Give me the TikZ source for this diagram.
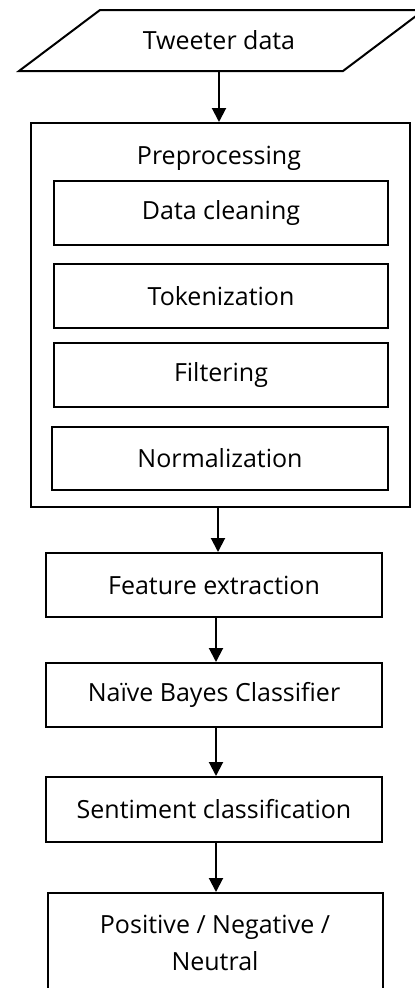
\documentclass[tikz,border=0pt]{standalone}
\usepackage{fontspec}
\setmainfont{Open Sans}
\usetikzlibrary{arrows.meta}
\begin{document}
\begin{tikzpicture}[x=1pt,y=-1pt,
  box/.style={draw,line width=2pt,rectangle,inner sep=0pt,font=\fontsize{25}{30}\selectfont},
  lbl/.style={inner sep=0pt,font=\fontsize{25}{30}\selectfont},
  arr/.style={line width=2pt,-{Triangle[width=14pt,length=14pt]}}]
\useasboundingbox (0,0) rectangle (415,988);
% input parallelogram
\draw[line width=2pt,line join=miter] (100,10) -- (424,10) -- (343,71) -- (19,71) -- cycle;
\node[lbl,minimum height=61pt] (tw) at (219,40.5) {Tweeter data};
% preprocessing
\node[box,minimum width=379pt,minimum height=384pt] (pre) at (220.5,315) {};
\node[lbl] (prel) at (219,158) {Preprocessing};
\node[box,minimum width=334pt,minimum height=64pt] (dc) at (221,213) {Data cleaning};
\node[box,minimum width=334pt,minimum height=64pt] (tok) at (221,296) {Tokenization};
\node[box,minimum width=334pt,minimum height=64pt] (fil) at (221,375) {Filtering};
\node[box,minimum width=336pt,minimum height=63pt] (nor) at (220,458.5) {Normalization};
% pipeline
\node[box,minimum width=336pt,minimum height=64pt] (fe) at (214,585) {Feature extraction};
\node[box,minimum width=336pt,minimum height=64pt] (nb) at (214,695) {Naïve Bayes Classifier};
\node[box,minimum width=336pt,minimum height=65pt] (sc) at (214,809.5) {Sentiment classification};
\node[box,minimum width=335pt,minimum height=120pt] (out) at (215.5,953) {};
\node[lbl,align=center] (outl) at (215,943) {Positive / Negative /\\[7pt]Neutral};
% arrows
\draw[arr] (tw.south) -- (tw.south |- pre.north);
\draw[arr] (pre.south -| 218,0) -- (fe.north -| 218,0);
\draw[arr] (fe.south -| 216,0) -- (nb.north -| 216,0);
\draw[arr] (nb.south -| 216,0) -- (sc.north -| 216,0);
\draw[arr] (sc.south -| 216,0) -- (out.north -| 216,0);
\end{tikzpicture}
\end{document}
